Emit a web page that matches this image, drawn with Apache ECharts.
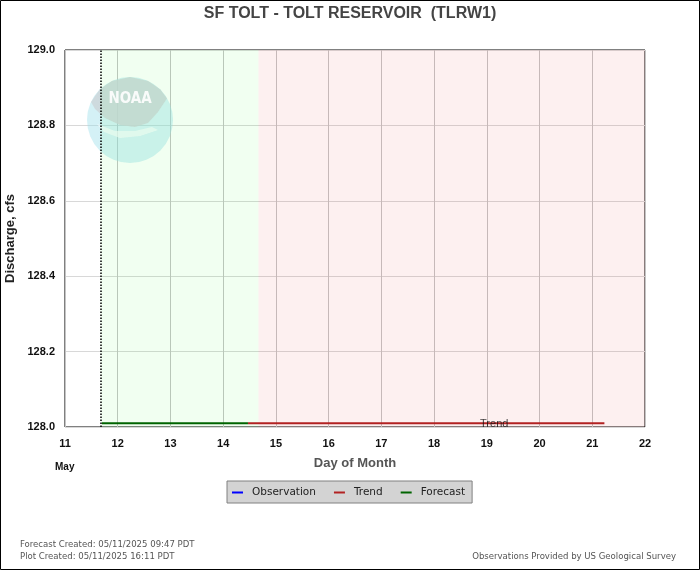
<!DOCTYPE html>
<html><head><meta charset="utf-8">
<script src="https://cdn.jsdelivr.net/npm/echarts@6/dist/echarts.min.js"></script>
<style>html,body{margin:0;padding:0;background:#fff}#c{width:700px;height:570px}</style>
</head><body><div id="c"></div>
<script>
var xTicks = [11,12,13,14,15,16,17,18,19,20,21,22];
var yTicks = [128.0,128.2,128.4,128.6,128.8,129.0];
var observationX = [];
var observationY = [];
var forecastX = [11.70, 14.47];
var forecastY = [128.01, 128.01];
var trendX = [14.47, 21.23];
var trendY = [128.01, 128.01];
var plotCreatedDay = 11.67;
var forecastEndDay = 14.67;
var trendLabelPoint = [19.14, 128.0];

function pairs(xs, ys){ return xs.map(function(x,i){return [x, ys[i]];}); }

var chart = echarts.init(document.getElementById('c'), null, {renderer:'canvas'});
var ff = '"Liberation Sans", Arial, sans-serif';
var small = '9.5px "Liberation Sans Narrow", "DejaVu Sans Condensed", sans-serif';
chart.setOption({
  animation:false,
  title:{text:'SF TOLT - TOLT RESERVOIR  (TLRW1)', left:'center', top:1,
    textStyle:{fontFamily:ff, fontSize:16, fontWeight:'bold', color:'#444'}},
  grid:{left:65, right:55, top:50, bottom:143, outerBoundsMode:'none', containLabel:false,
    show:true, borderColor:'#000', borderWidth:1, backgroundColor:'transparent'},
  legend:{left:227, top:481, itemWidth:11, itemHeight:2, itemGap:18, padding:[6,7,5,5],
    backgroundColor:'#d3d3d3', borderColor:'#808080', borderWidth:1, borderRadius:0,
    textStyle:{fontFamily:'"DejaVu Sans", sans-serif', fontSize:10.5, color:'#222', padding:[0,0,0,4]},
    data:[{name:'Observation', icon:'rect'},{name:'Trend', icon:'rect'},{name:'Forecast', icon:'rect'}]},
  xAxis:{type:'value', min:xTicks[0], max:xTicks[xTicks.length-1], interval:1,
    name:'Day of Month', nameLocation:'middle', nameGap:30,
    nameTextStyle:{fontFamily:ff, fontSize:13, fontWeight:'bold', color:'#555'},
    axisLine:{show:false}, axisTick:{show:false},
    axisLabel:{fontFamily:ff, fontSize:11, fontWeight:'bold', color:'#111', margin:11},
    splitLine:{show:true, lineStyle:{color:'#c4c4c4', width:1}}},
  yAxis:{type:'value', min:yTicks[0], max:yTicks[yTicks.length-1], interval:0.2,
    name:'Discharge, cfs', nameLocation:'middle', nameGap:47,
    nameTextStyle:{fontFamily:ff, fontSize:13, fontWeight:'bold', color:'#222'},
    axisLine:{show:false}, axisTick:{show:false},
    axisLabel:{fontFamily:ff, fontSize:11, fontWeight:'bold', color:'#111', margin:10,
      formatter:function(v){return v.toFixed(1);}},
    splitLine:{show:true, lineStyle:{color:'#d8d8d8', width:1}}},
  graphic:[
    {type:'rect', z:10, shape:{x:0.5, y:0.5, width:699, height:569}, style:{fill:'none', stroke:'#000', lineWidth:1}},
    {type:'circle', z:1, shape:{cx:130, cy:120, r:43}, style:{fill:'rgba(160,225,235,0.45)'}},
    {type:'polygon', z:1, shape:{points:[[91,102],[99.6,89.6],[111.8,81],[130,77],[148.2,81],[160.4,89.6],[167,98.5],[158,112],[148,123],[135,127],[120,125],[105,118],[95,109]]}, style:{fill:'rgba(205,212,216,0.8)'}},
    {type:'polygon', z:1, shape:{points:[[97,124],[115,131],[135,131],[152,127],[158,130],[140,136],[120,138],[104,132]]}, style:{fill:'rgba(255,255,255,0.6)'}},
    {type:'text', z:2, style:{x:130, y:99, text:'NOAA', fill:'rgba(255,255,255,0.9)', font:'bold 15px "DejaVu Sans Condensed", sans-serif', textAlign:'center', textVerticalAlign:'middle'}},
    {type:'text', left:55, top:462, style:{text:'May', font:'bold 10px '+ff, fill:'#111'}},
    {type:'text', left:20, top:540, style:{text:'Forecast Created: 05/11/2025 09:47 PDT', font:small, fill:'#555'}},
    {type:'text', left:20, top:552, style:{text:'Plot Created: 05/11/2025 16:11 PDT', font:small, fill:'#555'}},
    {type:'text', right:24, top:552, style:{text:'Observations Provided by US Geological Survey', font:small, fill:'#555'}}
  ],
  series:[
    {name:'Observation', type:'line', color:'#0000ff', symbol:'none', data:pairs(observationX, observationY), lineStyle:{width:2}},
    {name:'Trend', type:'line', color:'#b22222', symbol:'none', data:pairs(trendX, trendY), lineStyle:{width:2}, z:3},
    {name:'Forecast', type:'line', color:'#006400', symbol:'none', data:pairs(forecastX, forecastY), lineStyle:{width:2}, z:3,
      markArea:{silent:true, data:[
        [{xAxis:plotCreatedDay, itemStyle:{color:'rgba(0,255,0,0.055)'}},{xAxis:forecastEndDay}],
        [{xAxis:forecastEndDay, itemStyle:{color:'rgba(230,60,60,0.075)'}},{xAxis:xTicks[xTicks.length-1]}]
      ]},
      markLine:{silent:true, symbol:'none', label:{show:false},
        lineStyle:{color:'#000', type:[1.5,1.5], width:1.5},
        data:[{xAxis:plotCreatedDay}]}},
    {name:'TrendLabel', type:'scatter', symbolSize:0, data:[trendLabelPoint], z:5,
      label:{show:true, formatter:'Trend', position:'top', distance:-2,
        fontFamily:ff, fontSize:11, color:'#111'}, tooltip:{show:false}}
  ]
});
</script></body></html>
